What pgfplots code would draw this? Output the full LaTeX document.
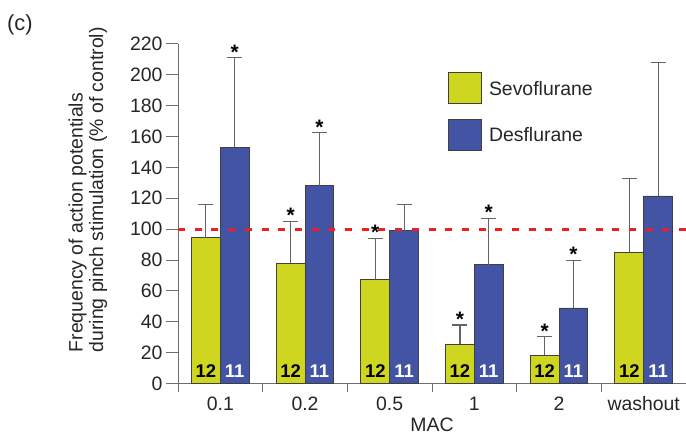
\documentclass[border=0pt]{standalone}
\usepackage{pgfplots}
\pgfplotsset{compat=1.18}
\usepackage{fontspec}
\setmainfont{Liberation Sans}
\definecolor{sevo}{RGB}{206,214,32}
\definecolor{desf}{RGB}{68,84,164}
\definecolor{errc}{RGB}{100,100,100}
\definecolor{axc}{RGB}{110,110,110}
\definecolor{refred}{RGB}{236,32,36}
\begin{document}
\begin{tikzpicture}[x=1bp,y=1bp]
\useasboundingbox (0,0) rectangle (686,438);
\begin{axis}[
  at={(178bp,54.3bp)}, anchor=south west,
  scale only axis, width=508bp, height=340bp,
  xmin=-0.5, xmax=5.5, ymin=0, ymax=220,
  axis x line*=bottom, axis y line*=left,
  axis line style={axc, line width=1bp},
  tick style={axc, line width=1bp},
  tick align=outside,
  major tick length=12bp, minor tick length=8bp,
  ytick={0,20,...,220},
  xtick={0,1,2,3,4,5},
  xticklabels={0.1,0.2,0.5,1,2,washout},
  minor xtick={-0.5,0.5,1.5,2.5,3.5,4.5,5.5},
  major x tick style={draw=none},
  ticklabel style={font=\fontsize{19.5}{22}\selectfont, text=black!85},
  /pgf/number format/assume math mode=true,
  xticklabel style={yshift=2.5bp},
  xlabel={MAC},
  xlabel style={at={(axis description cs:0.5,0)}, anchor=north, yshift=-34bp, inner sep=0pt, font=\fontsize{19.5}{22}\selectfont, text=black!85},
  legend style={at={(axis cs:2.689,201.7)}, anchor=north west, draw=none, fill=none, inner sep=0pt, row sep=15bp, column sep=7bp, font=\fontsize{19.5}{22}\selectfont, text=black!85, nodes={inner sep=0pt, text depth=0pt}},
  legend cell align=left,
  clip=false,
]
% Sevoflurane
\addplot[ybar, bar width=0.34, bar shift=0pt, fill=sevo, draw=black!75, line width=0.8bp,
  legend image code/.code={\draw[fill=sevo, draw=black!75, line width=0.8bp] (0bp,-15.5bp) rectangle (33bp,15.5bp);},
  error bars/.cd, y dir=plus, y explicit,
  error bar style={errc, line width=1.1bp},
  error mark options={errc, rotate=90, mark size=7.5bp, line width=1.1bp}]
coordinates {
  (-0.17,94.5) +- (0,21.5)
  (0.83,78) +- (0,27)
  (1.83,67.5) +- (0,26.5)
  (2.83,25.5) +- (0,12.5)
  (3.83,18.5) +- (0,12)
  (4.83,85) +- (0,48)
};
\addlegendentry{Sevoflurane}
% Desflurane
\addplot[ybar, bar width=0.34, bar shift=0pt, fill=desf, draw=black!75, line width=0.8bp,
  legend image code/.code={\draw[fill=desf, draw=black!75, line width=0.8bp] (0bp,-15.5bp) rectangle (33bp,15.5bp);},
  error bars/.cd, y dir=plus, y explicit,
  error bar style={errc, line width=1.1bp},
  error mark options={errc, rotate=90, mark size=7.5bp, line width=1.1bp}]
coordinates {
  (0.17,153) +- (0,58)
  (1.17,128) +- (0,34.5)
  (2.17,99) +- (0,17)
  (3.17,77) +- (0,30)
  (4.17,49) +- (0,31)
  (5.17,121.5) +- (0,86.5)
};
\addlegendentry{Desflurane}
% reference line at 100 %
\addplot[refred, line width=2.8bp, dash pattern=on 7bp off 9.7bp, forget plot]
coordinates {(-0.5,100) (5.5,100)};
% significance stars (placed at the top of the error bars)
\addplot[draw=none, forget plot, nodes near coords={\textbf{*}},
  every node near coord/.append style={anchor=base, inner sep=0pt, yshift=-1.5bp, font=\fontsize{21}{22}\selectfont, text=black}]
coordinates {(0.17,211) (0.83,105) (1.17,162.5) (1.83,94) (2.83,38) (3.17,107) (3.83,30.5) (4.17,80)};
% n labels
\addplot[draw=none, forget plot, nodes near coords={\textbf{12}},
  every node near coord/.append style={anchor=base, inner sep=0pt, yshift=6bp, font=\fontsize{18.5}{20}\selectfont, text=black}]
coordinates {(-0.17,0) (0.83,0) (1.83,0) (2.83,0) (3.83,0) (4.83,0)};
\addplot[draw=none, forget plot, nodes near coords={\textbf{11}},
  every node near coord/.append style={anchor=base, inner sep=0pt, yshift=6bp, font=\fontsize{18.5}{20}\selectfont, text=white}]
coordinates {(0.17,0) (1.17,0) (2.17,0) (3.17,0) (4.17,0) (5.17,0)};
\end{axis}
\node[rotate=90, anchor=north west, align=left, inner sep=0pt, font=\fontsize{19.5}{20.5}\selectfont, text=black!85] at (68.4,85.5) {Frequency of action potentials\\during pinch stimulation (\% of control)};
\node[anchor=base west, inner sep=0pt, font=\fontsize{22}{24}\selectfont, text=black!85] at (7,407) {(c)};
\end{tikzpicture}
\end{document}
